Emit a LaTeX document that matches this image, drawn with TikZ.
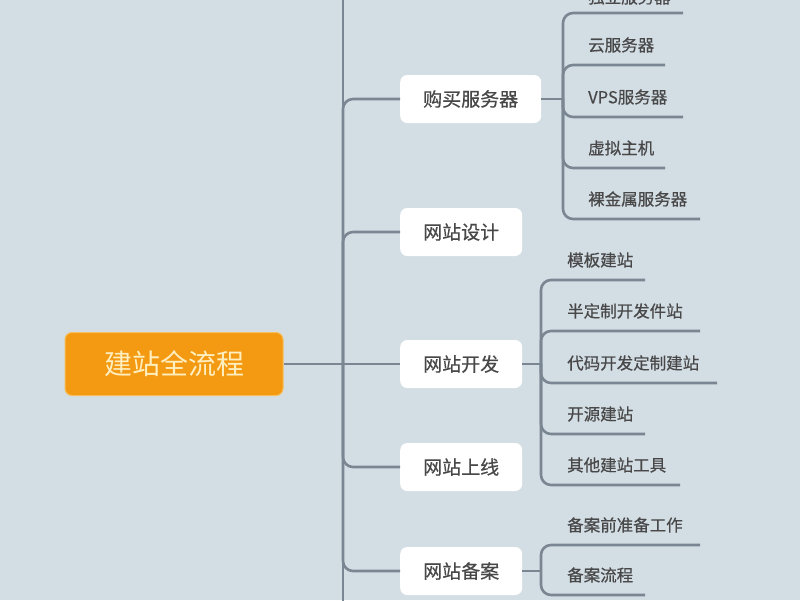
\documentclass[tikz,border=0pt]{standalone}
\usepackage{fontspec}
\setmainfont{Noto Sans CJK SC}
\newfontfamily\cjkmid{Noto Sans CJK SC}[FakeBold=0.5]
\usetikzlibrary{calc}

\definecolor{c_bg}{RGB}{211,221,228}
\definecolor{c_line}{RGB}{122,135,147}
\definecolor{c_root}{RGB}{243,154,18}
\definecolor{c_root_border}{RGB}{247,190,90}
\definecolor{c_root_text}{RGB}{255,238,190}
\definecolor{c_text}{RGB}{72,72,72}

\tikzset{
  rootbox/.style={rectangle, rounded corners=7pt, fill=c_root, draw=c_root_border, line width=1pt,
    minimum height=63pt, minimum width=218pt, text=c_root_text, font=\fontsize{28}{30}\selectfont},
  topicbox/.style={rectangle, rounded corners=7pt, fill=white, minimum height=48pt,
    inner xsep=23pt, text=c_text, font=\cjkmid\fontsize{19}{21}\selectfont},
  leaf/.style={anchor=west, inner sep=0pt, text=c_text, font=\cjkmid\fontsize{16.5}{18}\selectfont},
  branch/.style={draw=c_line, line width=2.6pt, rounded corners=10pt},
}

\begin{document}
\begin{tikzpicture}[x=1pt, y=-1pt]

% Background and page size
\fill[c_bg] (0,0) rectangle (800,600);
\useasboundingbox (0,0) rectangle (800,600);

% Root
\node (root) at (174, 364) [rootbox] {建站全流程};

% Trunk
\coordinate (trunktop) at (343, -5);
\coordinate (trunkmid) at (343, 364);
\coordinate (trunkbottom) at (343, 605);
\draw[branch] (trunktop) -- (trunkbottom);
\draw[branch] (root.east) -- (trunkmid);

% Topics
\node (buy) at (400, 99) [topicbox, anchor=west] {购买服务器};
\node (design) at (400, 232) [topicbox, anchor=west] {网站设计};
\node (dev) at (400, 364) [topicbox, anchor=west] {网站开发};
\node (launch) at (400, 467) [topicbox, anchor=west] {网站上线};
\node (record) at (400, 571) [topicbox, anchor=west] {网站备案};

\foreach \t in {buy, design, launch, record} {
  \draw[branch] (trunkmid) |- (\t.west);
}
\draw[branch] (trunkmid) -- (dev.west);

% Forks
\coordinate (buyfork) at (563, 99);
\coordinate (devfork) at (541, 364);
\coordinate (recordfork) at (541, 571);
\draw[branch] (buy.east) -- (buyfork);
\draw[branch] (dev.east) -- (devfork);
\draw[branch] (record.east) -- (recordfork);

% Server types (the first one is cut by the top edge)
\foreach \i/\ty/\y/\xend/\label in {1/-3/13/683/独立服务器, 2/45/65/665/云服务器, 3/97/117/683/VPS服务器,
    4/148/168/665/虚拟主机, 5/199/219/700/裸金属服务器} {
  \node (buy\i) at (588, \ty) [leaf] {\label};
  \coordinate (buyend\i) at (\xend, \y);
  \draw[branch] (buyfork) |- (buyend\i);
}

% Development ways
\foreach \i/\y/\xend/\label in {1/280/645/模板建站, 2/331/700/半定制开发件站, 3/383/717/代码开发定制建站,
    4/434/645/开源建站, 5/485/680/其他建站工具} {
  \node (dev\i) at (567, \y - 20) [leaf] {\label};
  \coordinate (devend\i) at (\xend, \y);
  \draw[branch] (devfork) |- (devend\i);
}

% Record steps
\foreach \i/\y/\xend/\label in {1/545/700/备案前准备工作, 2/595/645/备案流程} {
  \node (record\i) at (567, \y - 20) [leaf] {\label};
  \coordinate (recordend\i) at (\xend, \y);
  \draw[branch] (recordfork) |- (recordend\i);
}

\end{tikzpicture}
\end{document}
